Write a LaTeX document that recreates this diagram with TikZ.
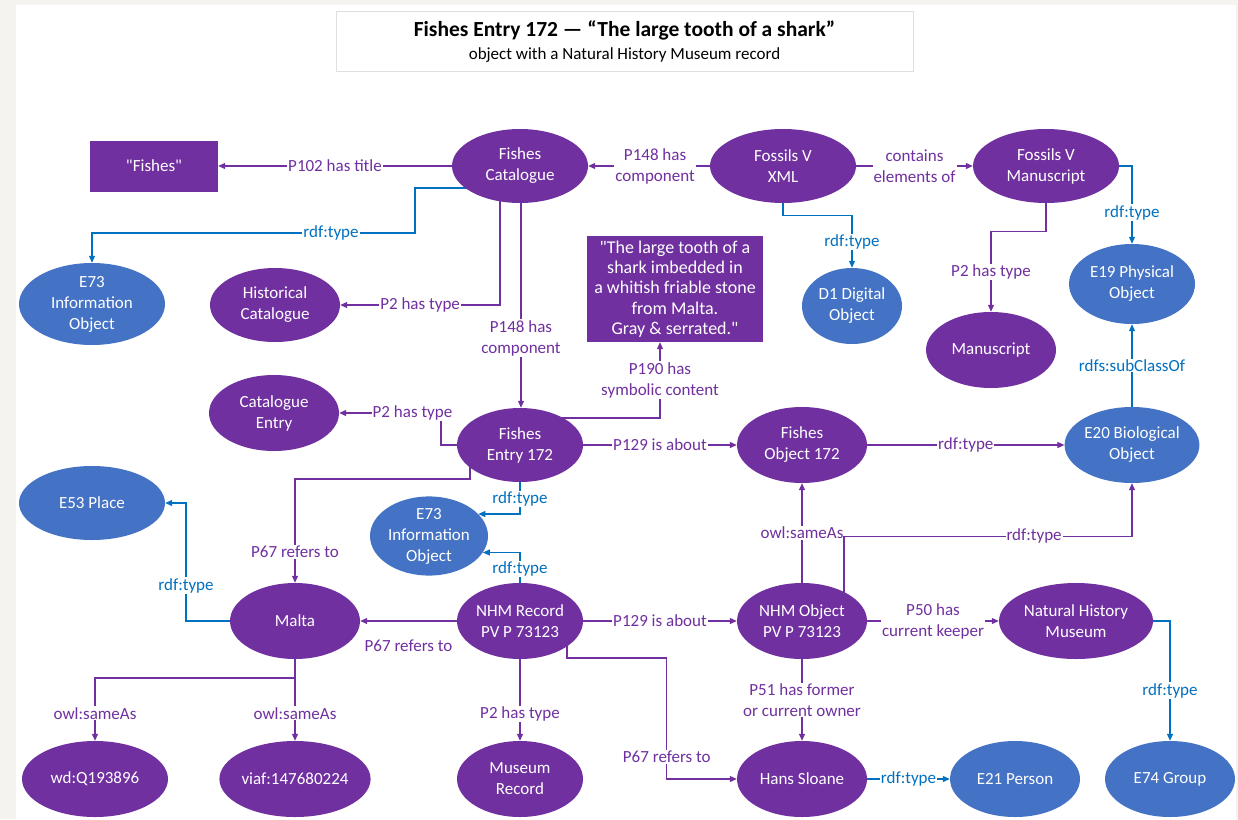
\documentclass[tikz,border=0pt]{standalone}
\usepackage{fontspec}
\setmainfont{Carlito}[Ligatures=TeXOff]
\usetikzlibrary{shapes.geometric,arrows.meta,calc}
\definecolor{pur}{HTML}{7030A0}
\definecolor{blu}{HTML}{4472C4}
\definecolor{lblu}{HTML}{0070C0}
\definecolor{bgc}{HTML}{F5F3F0}
\pgfdeclarelayer{back}\pgfdeclarelayer{edges}\pgfsetlayers{back,edges,main}
\begin{document}
\begin{tikzpicture}[x=1pt,y=-1pt,
 ent/.style={ellipse,fill=pur,text=white,inner sep=0pt,align=center,font=\fontsize{17}{21}\selectfont},
 cls/.style={ent,fill=blu},
 lit/.style={rectangle,fill=pur,text=white,inner sep=0pt,align=center},
 pe/.style={draw=pur,line width=1.1pt,-{Triangle[length=7pt,width=6pt]}},
 be/.style={pe,draw=lblu},
 lbl/.style={fill=white,inner sep=1pt,text=pur,align=center,font=\fontsize{17}{21}\selectfont},
 blbl/.style={lbl,text=lblu}]
\useasboundingbox (0,0) rectangle (1238,819);
\begin{pgfonlayer}{back}
\fill[bgc] (0,0) rectangle (1238,819);
\fill[white] (16,5) rectangle (1236,819);
\end{pgfonlayer}
% title
\node[draw=gray!25,fill=white,minimum width=577pt,minimum height=60pt,inner sep=0pt] (title) at (624.5,41) {};
\node[font=\bfseries\fontsize{21.5}{26}\selectfont,inner sep=0pt] (t1) at (624.5,30) {Fishes Entry 172 — “The large tooth of a shark”};
\node[font=\fontsize{17}{20}\selectfont,inner sep=0pt] (t2) at (624.5,55) {object with a Natural History Museum record};
% nodes
\node[lit,minimum width=128pt,minimum height=51pt,font=\fontsize{17}{21}\selectfont] (fishes) at (154,166) {"Fishes"};
\node[ent,minimum width=136pt,minimum height=74pt] (fcat) at (520,166) {Fishes\\Catalogue};
\node[ent,minimum width=146pt,minimum height=74pt] (fxml) at (783,166) {Fossils V\\XML};
\node[ent,minimum width=146pt,minimum height=74pt] (fman) at (1046,166) {Fossils V\\Manuscript};
\node[cls,minimum width=146pt,minimum height=82pt] (e73a) at (92,304) {E73\\Information\\Object};
\node[ent,minimum width=130pt,minimum height=74pt] (hist) at (275,305) {Historical\\Catalogue};
\node[cls,minimum width=100pt,minimum height=76pt] (d1) at (852,306) {D1 Digital\\Object};
\node[cls,minimum width=126pt,minimum height=80pt] (e19) at (1132,284) {E19 Physical\\Object};
\node[ent,minimum width=130pt,minimum height=76pt] (manus) at (991,350) {Manuscript};
\node[lit,minimum width=176pt,minimum height=106pt,font=\fontsize{18}{20.3}\selectfont] (tbox) at (675,289) {"The large tooth of a\\shark imbedded in\\a whitish friable stone\\from Malta.\\Gray \& serrated."};
\node[ent,minimum width=130pt,minimum height=76pt] (catent) at (274,413) {Catalogue\\Entry};
\node[ent,minimum width=126pt,minimum height=74pt] (fe) at (520,445) {Fishes\\Entry 172};
\node[ent,minimum width=130pt,minimum height=76pt] (fobj) at (802,445) {Fishes\\Object 172};
\node[cls,minimum width=130pt,minimum height=76pt] (e20) at (1132,445) {E20 Biological\\Object};
\node[cls,minimum width=146pt,minimum height=74pt] (e53) at (92,503) {E53 Place};
\node[cls,minimum width=118pt,minimum height=78pt] (e73b) at (429,536) {E73\\Information\\Object};
\node[ent,minimum width=130pt,minimum height=76pt] (malta) at (295,621) {Malta};
\node[ent,minimum width=126pt,minimum height=76pt] (nrec) at (520,621) {NHM Record\\PV P 73123};
\node[ent,minimum width=130pt,minimum height=76pt] (nobj) at (802,621) {NHM Object\\PV P 73123};
\node[ent,minimum width=154pt,minimum height=76pt] (nhm) at (1076,621) {Natural History\\Museum};
\node[ent,minimum width=146pt,minimum height=76pt] (wd) at (95,779) {wd:Q193896};
\node[ent,minimum width=146pt,minimum height=76pt] (viaf) at (295,779) {viaf:147680224};
\node[ent,minimum width=126pt,minimum height=76pt] (mrec) at (520,779) {Museum\\Record};
\node[ent,minimum width=130pt,minimum height=76pt] (hans) at (802,779) {Hans Sloane};
\node[cls,minimum width=130pt,minimum height=76pt] (e21) at (1015,779) {E21 Person};
\node[cls,minimum width=130pt,minimum height=76pt] (e74) at (1170,779) {E74 Group};
% edges
\begin{pgfonlayer}{edges}
\draw[pe] (fcat) -- node[lbl]{P102 has title} (fishes);
\draw[be] ([xshift=-40pt,yshift=-22pt]fcat.center) -- ++(-65,0) -- ++(0,45) -| node[blbl,pos=0.13]{rdf:type} (e73a.north);
\draw[pe] ([xshift=-20pt]fcat.center) |- node[lbl,pos=0.75]{P2 has type} (hist.east);
\draw[pe] ([xshift=1pt]fcat.south) -- node[lbl,pos=0.66]{P148 has\\component} ([xshift=1pt]fe.north);
\draw[pe] (fxml) -- node[lbl,pos=0.45]{P148 has\\component} (fcat);
\draw[pe] (fxml) -- node[lbl]{contains\\elements of} (fman);
\draw[be] (fxml.center) |- ([yshift=52pt]d1.north) -- node[blbl]{rdf:type} (d1.north);
\draw[be] (fman.center) -| node[blbl,pos=0.8]{rdf:type} (e19.north);
\draw[pe] (fman.center) |- ([yshift=80pt]manus.north) -- node[lbl]{P2 has type} (manus.north);
\draw[be] (e20) -- node[blbl]{rdfs:subClassOf} (e19);
\draw[pe] ([yshift=27pt]fe.center) -| node[lbl,pos=0.75]{P190 has\\symbolic content} ([xshift=-15pt]tbox.south);
\draw[pe] (fe.center) -- ++(-79,0) |- node[lbl,pos=0.64]{P2 has type} (catent.east);
\draw[pe] (fe) -- node[lbl]{P129 is about} (fobj);
\draw[pe] (fobj) -- node[lbl]{rdf:type} (e20);
\draw[be] (fe.center) |- node[blbl,pos=0.39]{rdf:type} (e73b.24);
\draw[be] (nrec.center) |- node[blbl,pos=0.38]{rdf:type} (e73b.-17);
\draw[pe] ([xshift=-50pt]fe.center) -- ++(0,34) -| node[lbl,pos=0.85]{P67 refers to} (malta.north);
\draw[be] (malta.center) -- ++(-109,0) |- node[blbl,pos=0.15]{rdf:type} (e53.east);
\draw[pe] (nrec) -- node[lbl,fill=none,yshift=-25pt]{P67 refers to} (malta);
\draw[pe] (nrec) -- node[lbl]{P129 is about} (nobj);
\draw[pe] (nobj) -- node[lbl]{owl:sameAs} (fobj);
\draw[pe] ([xshift=42pt]nobj.center) |- node[lbl,pos=0.83]{rdf:type} ([yshift=-53pt]e20.south) -- (e20.south);
\draw[pe] (nobj) -- node[lbl]{P50 has\\current keeper} (nhm);
\draw[be] (nhm.center) -| node[blbl,pos=0.79]{rdf:type} (e74.north);
\draw[pe] (nobj) -- node[lbl]{P51 has former\\or current owner} (hans);
\draw[pe] ([xshift=47pt]nrec.center) |- ([xshift=-70pt,yshift=121pt]hans.west) |- node[lbl,pos=0.41]{P67 refers to} (hans.west);
\draw[be] (hans) -- node[blbl]{rdf:type} (e21);
\draw[pe] (malta.center) -- node[lbl,pos=0.77]{owl:sameAs} (viaf.north);
\draw[pe] ([yshift=-57pt]malta.center) -| node[lbl,pos=0.78]{owl:sameAs} (wd.north);
\draw[pe] (nrec) -- node[lbl,pos=0.67]{P2 has type} (mrec);
\end{pgfonlayer}
\end{tikzpicture}
\end{document}
